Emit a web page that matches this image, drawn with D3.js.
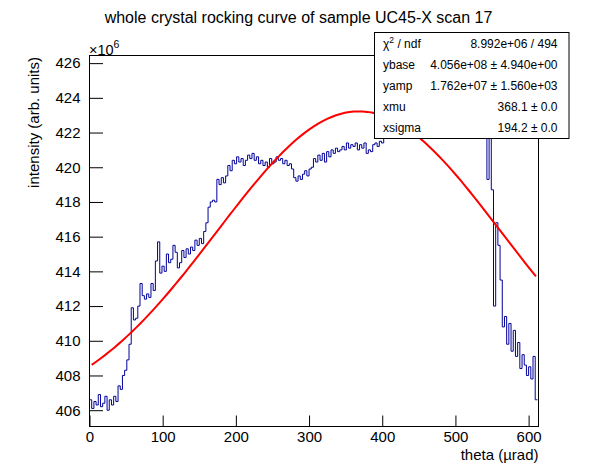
<!DOCTYPE html>
<html>
<head>
<meta charset="utf-8">
<script src="https://cdn.jsdelivr.net/npm/d3@7"></script>
<style>
body { margin: 0; background: #fff; }
text { font-family: "Liberation Sans", Arial, sans-serif; fill: #000; }
</style>
</head>
<body>
<span></span>
<script>
let width = 598;
let height = 474;

// histogram: bins of 3 urad starting at 0, intensity in units of 1e6
let binStart = 0;
let binWidth = 3;
let intensity = [
    406.6, 406.1, 406.5, 406.3, 406.9, 406.2, 406.4, 406.8, 406.0, 406.6, 406.3, 406.8, 406.5,
    407.4, 407.2, 408.0, 408.3, 408.9, 409.8, 411.9, 411.2, 411.3, 412.0, 413.3, 412.6, 412.4,
    412.7, 412.5, 413.3, 412.9, 414.6, 415.7, 413.9, 414.3, 414.0, 415.0, 414.5, 414.7, 415.5,
    415.1, 414.2, 414.5, 415.2, 414.8, 415.3, 415.0, 415.4, 415.2, 415.8, 415.5, 415.9, 415.6,
    416.3, 416.8, 417.7, 418.0, 418.1, 418.0, 419.3, 419.0, 419.4, 419.1, 419.5, 420.1, 419.8,
    420.4, 420.2, 420.6, 420.3, 420.5, 420.1, 420.4, 420.7, 420.5, 420.8, 420.4, 420.6, 420.2,
    420.4, 420.1, 420.3, 420.0, 420.5, 420.2, 420.3, 420.6, 420.4, 420.5, 420.2, 420.4, 420.1,
    420.2, 419.9, 419.4, 419.2, 419.5, 419.3, 419.6, 419.8, 419.5, 419.9, 420.0, 420.5, 420.3,
    420.7, 420.4, 420.8, 420.3, 420.9, 420.6, 421.0, 420.8, 421.1, 420.9, 421.0, 421.2, 421.0,
    421.4, 421.1, 421.3, 421.2, 421.4, 421.0, 421.3, 421.1, 421.4, 420.8, 421.0, 420.9, 421.3,
    421.4, 421.2, 421.5, 421.4, 421.7, 422.0,
    // hidden under the stats box
    422.3, 422.1, 422.5, 422.4, 422.8, 422.6, 422.9, 423.1, 422.8, 423.2, 423.0, 423.4, 423.1,
    423.5, 423.3, 423.6, 423.2, 423.7, 423.4, 423.8, 423.5, 423.9, 423.6, 423.4, 423.8, 423.5,
    423.9, 424.1, 423.7, 424.0, 423.6, 423.9, 424.2, 423.8, 424.4, 424.0, 424.3, 423.9, 424.5,
    424.1, 423.6, 424.2, 423.8, 424.4, 423.9,
    419.3, 422.5, 418.7, 412.0, 416.8, 415.5, 413.5, 410.8, 411.4, 409.8, 411.0, 409.4, 410.6,
    409.1, 409.9, 408.4, 409.2, 408.6, 408.0, 408.5, 407.8, 409.1, 406.6
];

// gaussian fit results (stats box)
let parNames = ["ybase", "yamp", "xmu", "xsigma"];
let parValues = [4.056e8, 1.762e7, 368.1, 194.2];
let parErrors = [4.940e0, 1.560e3, 0.0, 0.0];
let chi2 = 8.992e6;
let ndf = 494;
let fitRange = [3, 610];

let xTicks = [0, 100, 200, 300, 400, 500, 600];
let yTicks = [406, 408, 410, 412, 414, 416, 418, 420, 422, 424, 426];

let svg = d3.select("span")
    .append("svg")
    .attr("height", height)
    .attr("width", width)
    .style("display", "block");

let x = d3.scaleLinear().domain([0, 613.5]).range([89.5, 538.5]);
let y = d3.scaleLinear().domain([405.06, 426.44]).range([426.5, 55.5]);

// title
svg.append("text")
    .attr("x", 298.5)
    .attr("y", 23)
    .attr("text-anchor", "middle")
    .style("font-size", "16px")
    .text("whole crystal rocking curve of sample UC45-X scan 17");

svg.append("clipPath").attr("id", "frameClip")
    .append("rect")
    .attr("x", x.range()[0]).attr("y", y.range()[1])
    .attr("width", x.range()[1] - x.range()[0])
    .attr("height", y.range()[0] - y.range()[1]);

// histogram as steps
let steps = intensity.map((v, i) => [binStart + i * binWidth, v]);
steps.push([binStart + intensity.length * binWidth, intensity[intensity.length - 1]]);

let stepLine = d3.line()
    .x(d => x(d[0]))
    .y(d => y(d[1]))
    .curve(d3.curveStepAfter);

svg.append("path")
    .attr("clip-path", "url(#frameClip)")
    .attr("d", stepLine(steps))
    .attr("fill", "none")
    .attr("stroke", "#000099")
    .attr("stroke-width", 1);

// fit curve, 100 points like ROOT draws it
function gaus(t) {
    let z = (t - parValues[2]) / parValues[3];
    return (parValues[0] + parValues[1] * Math.exp(-0.5 * z * z)) / 1e6;
}
let fitPts = d3.range(101).map(i => {
    let t = fitRange[0] + i * (fitRange[1] - fitRange[0]) / 100;
    return [t, gaus(t)];
});
svg.append("path")
    .attr("clip-path", "url(#frameClip)")
    .attr("d", d3.line().x(d => x(d[0])).y(d => y(d[1]))(fitPts))
    .attr("fill", "none")
    .attr("stroke", "#ff0000")
    .attr("stroke-width", 2);

// axes (ticks inside the frame)
let xMinor = d3.range(0, 614, 20).filter(v => v % 100 !== 0);
let yMinor = d3.range(405.2, 426.5, 0.4).filter(v => Math.abs(v / 2 - Math.round(v / 2)) > 0.01);

let gx = svg.append("g").attr("transform", "translate(0," + y.range()[0] + ")");
gx.call(d3.axisBottom(x).tickValues(xMinor).tickSize(-5.5).tickFormat(""));
gx.call(d3.axisBottom(x).tickValues(xTicks).tickSize(-11).tickPadding(5).tickFormat(d3.format("d")));

let gy = svg.append("g").attr("transform", "translate(" + x.range()[0] + ",0)");
gy.call(d3.axisLeft(y).tickValues(yMinor).tickSize(-7).tickFormat(""));
gy.call(d3.axisLeft(y).tickValues(yTicks).tickSize(-13.5).tickPadding(9).tickFormat(d3.format("d")));

svg.selectAll(".domain").remove();
svg.selectAll(".tick text").style("font-size", "15px").attr("font-family", null);
svg.selectAll(".tick line").attr("stroke", "#000");

// frame
svg.append("rect")
    .attr("x", x.range()[0]).attr("y", y.range()[1])
    .attr("width", x.range()[1] - x.range()[0])
    .attr("height", y.range()[0] - y.range()[1])
    .attr("fill", "none")
    .attr("stroke", "#000");

// exponent label
let expo = svg.append("text").attr("x", 89).attr("y", 54.5).style("font-size", "14.5px");
expo.append("tspan").text("\u00d710");
expo.append("tspan").attr("dy", -7).style("font-size", "10.5px").text("6");

// axis titles
svg.append("text")
    .attr("x", 538.5)
    .attr("y", 460)
    .attr("text-anchor", "end")
    .style("font-size", "15px")
    .text("theta (\u00b5rad)");

svg.append("text")
    .attr("transform", "translate(39,57) rotate(-90)")
    .attr("text-anchor", "end")
    .style("font-size", "15px")
    .text("intensity (arb. units)");

// stats box
function fmt(v, big) {
    if (!big) return v.toFixed(1);
    let s = v.toExponential(3);
    return s.replace(/e([+-])(\d)$/, "e$10$2");
}
let statRows = [["\u03c7\u00b2 / ndf", fmt(chi2, true) + " / " + ndf]];
parNames.forEach((n, i) => {
    let big = Math.abs(parValues[i]) >= 1e4;
    statRows.push([n, fmt(parValues[i], big) + " \u00b1 " + fmt(parErrors[i], big)]);
});

let box = svg.append("g");
box.append("rect")
    .attr("x", 374.5).attr("y", 32.5)
    .attr("width", 194.5).attr("height", 106)
    .attr("fill", "#fff")
    .attr("stroke", "#000");

let rowY = d3.scalePoint().domain(d3.range(statRows.length)).range([47.5, 132]);
statRows.forEach((r, i) => {
    let lab = box.append("text")
        .attr("x", 383)
        .attr("y", rowY(i))
        .style("font-size", "12px");
    if (i === 0) {
        lab.append("tspan").text("\u03c7");
        lab.append("tspan").attr("dy", -5).style("font-size", "8.5px").text("2");
        lab.append("tspan").attr("dy", 5).text(" / ndf");
    } else {
        lab.text(r[0]);
    }
    box.append("text")
        .attr("x", 557.5)
        .attr("y", rowY(i))
        .attr("text-anchor", "end")
        .style("font-size", "12px")
        .text(r[1]);
});
</script>
</body>
</html>
